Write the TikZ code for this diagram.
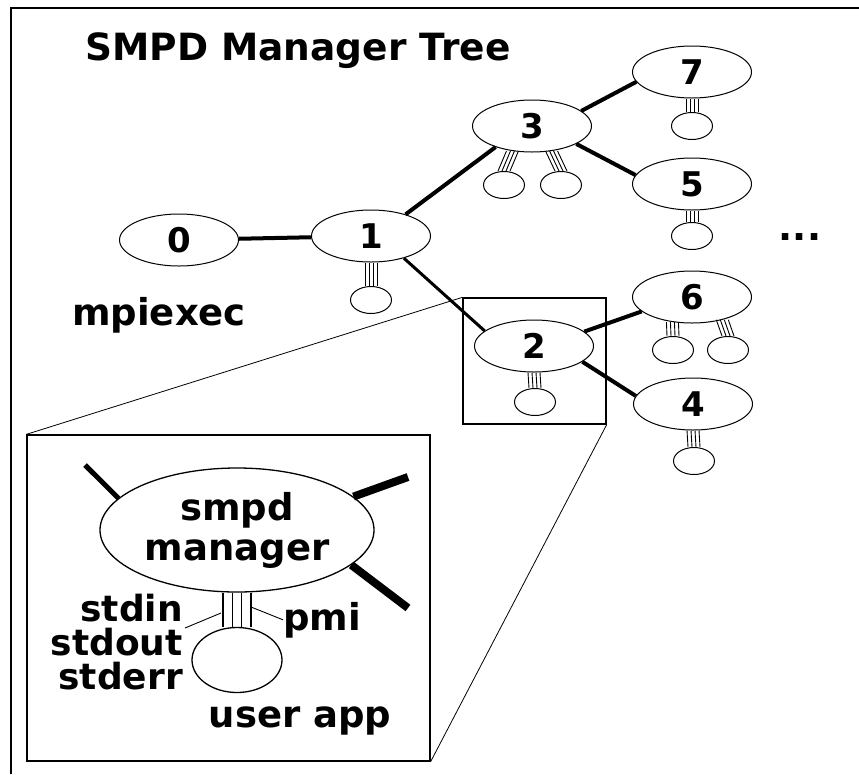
\documentclass[tikz,border=0pt]{standalone}
\usepackage{fontspec}
\setmainfont{DejaVu Sans}
\usetikzlibrary{shapes.geometric, calc}

\begin{document}
\begin{tikzpicture}[
  x=1pt, y=-1pt,
  mgr/.style={ellipse, draw, line width=1pt, minimum width=119pt, minimum height=52pt, inner sep=0pt, font=\fontsize{34}{36}\selectfont\bfseries},
  app/.style={ellipse, draw, line width=1pt, minimum width=41pt, minimum height=27pt, inner sep=0pt},
  txt/.style={inner sep=0pt, font=\fontsize{37}{40}\selectfont\bfseries},
  link/.style={line width=4pt},
  wire/.style={line width=0.9pt},
  zoomline/.style={line width=0.8pt},
  box/.style={rectangle, draw, line width=1.3pt, inner sep=0pt}
]
\useasboundingbox (0,0) rectangle (859,774);

% Frame
\draw[line width=2pt] (11,774) -- (11,8) -- (859,8);

\node[txt, anchor=base west, font=\fontsize{37.5}{40}\selectfont\bfseries] (title) at (85,60) {SMPD Manager Tree};

% Managers
\node[mgr] (n0) at (179,240) {0};
\node[mgr] (n1) at (371,236) {1};
\node[mgr] (n3) at (532,126) {3};
\node[mgr] (n7) at (692,72) {7};
\node[mgr] (n5) at (692,184) {5};
\node[mgr] (n2) at (534,346) {2};
\node[mgr] (n6) at (692,297) {6};
\node[mgr] (n4) at (693,404) {4};

\node[txt, anchor=base west] (mpi) at (72,325) {mpiexec};
\node[txt, anchor=base] (more) at (800,240) {...};

\draw[link] (n0) -- (n1);
\draw[link] (n1.32) -- (n3.210);
\draw[link] (n3.17) -- (n7.190);
\draw[link] (n3.-22) -- (n5.171);
\draw[link, line width=3pt] (n1.-34) -- (n2.163);
\draw[link] (n2.16) -- (n6.196);
\draw[link] (n2.-18) -- (n4.172);

% User apps
\node[app] (a1) at (371,300) {};
\node[app] (a3l) at (504,185) {};
\node[app] (a3r) at (561,185) {};
\node[app] (a7) at (692,126) {};
\node[app] (a5) at (692,236) {};
\node[app] (a2) at (535,402) {};
\node[app] (a6l) at (673,350) {};
\node[app] (a6r) at (728,350) {};
\node[app] (a4) at (694,461) {};

\foreach \m/\a in {n1.south/a1.north, n3.232/a3l.north, n3.308/a3r.north,
                   n7.south/a7.north, n5.south/a5.north, n2.south/a2.north,
                   n6.232/a6l.north, n6.323/a6r.north, n4.south/a4.north}
  \foreach \dx in {-6,-2,2,6}
    \draw[wire] ($(\m)+(\dx,0)$) -- ($(\a)+(\dx,0)$);

% Zoomed inset
\node[box, minimum width=143pt, minimum height=126pt] (zbox) at (534.5,361) {};
\node[box, minimum width=403pt, minimum height=326pt] (ibox) at (228.5,598) {};
\draw[zoomline] (zbox.north west) -- (ibox.north west);
\draw[zoomline] (zbox.south east) -- (ibox.south east);

\node[ellipse, draw, line width=1.3pt, minimum width=274pt, minimum height=124pt, txt, align=center] (big) at (237,530) {smpd\\manager};
\node[ellipse, draw, line width=1.3pt, minimum width=90pt, minimum height=65pt] (bigapp) at (237,660) {};

\coordinate (stubA) at (85,465);
\coordinate (stubB) at (408,477);
\coordinate (stubC) at (408,608);
\draw[line width=5pt] (big.165) -- (stubA);
\draw[line width=8pt] (big.16) -- (stubB);
\draw[line width=8pt] (big.-17) -- (stubC);

\foreach \dx in {-14,-4.7,4.7,14}
  \draw[line width=1.2pt] ($(big.south)+(\dx,0)$) -- ($(bigapp.north)+(\dx,0)$);

\node[txt, align=right, anchor=north east, font=\fontsize{36}{34}\selectfont\bfseries] (lio) at (183,594) {stdin\\stdout\\stderr};
\node[txt, anchor=base west] (lpmi) at (283,630) {pmi};
\node[txt, anchor=base] (luser) at (300,727) {user app};

\coordinate (tapio) at (221,613);
\coordinate (tappmi) at (251,607);
\draw[wire] ($(lio.north east)+(2,34)$) -- (tapio);
\draw[wire] (lpmi.west) -- (tappmi);

\end{tikzpicture}
\end{document}
